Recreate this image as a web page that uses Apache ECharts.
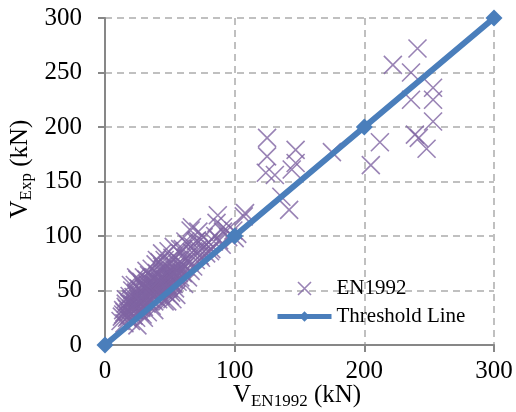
<!DOCTYPE html>
<html>
<head>
<meta charset="utf-8">
<script src="https://cdn.jsdelivr.net/npm/echarts@6/dist/echarts.min.js"></script>
<style>
html, body { margin: 0; padding: 0; background: #fff; }
#chart { width: 516px; height: 412px; }
</style>
</head>
<body>
<div id="chart"></div>
<script>
// values
var axisTicks = [0, 50, 100, 150, 200, 250, 300];
var thresholdX = [0, 100, 200, 300];
var thresholdY = [0, 100, 200, 300];

var en1992X = [241, 222, 236, 253, 253, 236, 253, 239, 242, 248, 212, 205, 175, 125, 125, 124, 131, 147, 147, 144, 136, 142, 107, 91, 99,
    108, 87, 67, 72, 91, 95, 81, 66, 71, 86, 94, 102, 76, 78, 62, 58, 84, 100, 68, 73,
    12, 14, 15, 16, 17, 18, 18, 19, 20, 20, 21, 21, 22, 22, 23, 23, 24, 24, 25, 25, 26, 26, 27, 27, 28, 28, 29, 29, 30, 30, 30,
    31, 31, 32, 32, 33, 33, 34, 34, 35, 35, 36, 36, 37, 37, 38, 38, 39, 39, 40, 40, 41, 41, 42, 42, 43, 43, 44, 44, 45, 45,
    46, 46, 47, 47, 48, 48, 49, 49, 50, 50, 51, 51, 52, 52, 53, 53, 54, 54, 55, 55, 56, 56, 57, 58, 58, 59, 60, 60, 61, 62,
    63, 64, 64, 65, 66, 67, 68, 70, 70, 72, 74, 76, 78, 80, 82, 85, 88, 90, 20, 24, 28, 32, 36, 16, 40, 44, 25, 30, 38, 46, 50, 48, 52,
    13, 15, 17, 19, 21, 23, 25, 27, 29, 31, 33, 35, 37, 39, 41, 43, 45, 47, 49, 51, 53, 55, 57, 59,
    14, 16, 18, 20, 22, 24, 26, 28, 30, 32, 34, 36, 38, 40, 42, 44, 46, 48, 50, 52, 54, 56,
    19, 23, 27, 31, 35, 39, 43, 47, 51, 55, 59, 63, 26, 34, 42, 33, 41, 37, 45, 29];
var en1992Y = [272, 257, 250, 236, 225, 225, 205, 193, 190, 180, 186, 165, 177, 190, 173, 158, 156, 179, 167, 161, 136, 124, 118, 108, 105,
    121, 119, 108, 104, 104, 99, 86, 105, 96, 112, 105, 102, 99, 92, 95, 88, 95, 98, 90, 82,
    22, 28, 20, 35, 25, 40, 30, 45, 22, 33, 50, 38, 27, 44, 55, 32, 48, 25, 40, 60, 35, 52, 30, 45, 58, 38, 48, 28, 62, 42, 35,
    52, 46, 68, 38, 56, 30, 48, 64, 42, 58, 36, 70, 52, 45, 62, 40, 55, 74, 48, 66, 42, 58, 76, 52, 62, 45, 84, 56, 70, 50,
    60, 78, 48, 66, 56, 72, 86, 52, 62, 75, 58, 48, 68, 80, 60, 90, 52, 72, 46, 64, 78, 58, 70, 84, 62, 75, 66, 88, 56, 72,
    80, 62, 92, 76, 68, 85, 72, 78, 95, 88, 80, 90, 84, 94, 88, 100, 96, 92, 55, 62, 50, 60, 62, 42, 78, 72, 18, 25, 32, 40, 45, 40, 42,
    26, 30, 33, 38, 42, 36, 44, 50, 40, 46, 52, 50, 56, 44, 50, 56, 62, 58, 54, 64, 56, 62, 66, 70,
    32, 38, 26, 42, 32, 36, 46, 34, 52, 42, 40, 48, 56, 58, 48, 66, 52, 62, 68, 56, 66, 74,
    28, 36, 40, 44, 50, 52, 58, 60, 64, 68, 72, 76, 42, 50, 60, 55, 64, 46, 54, 55];

var serif = 'Liberation Serif';
var purple = '#8064A2';
var blue = '#4A7EBB';
var crossPath = 'path://M0,0L10,10M10,0L0,10';

var chart = echarts.init(document.getElementById('chart'));

function buildPoints(xs, ys) {
    var pts = [];
    for (var i = 0; i < xs.length; i++) {
        pts.push([xs[i], ys[i]]);
    }
    return pts;
}

var axisCommon = {
    type: 'value',
    min: axisTicks[0],
    max: axisTicks[axisTicks.length - 1],
    axisLine: { show: true, lineStyle: { color: '#878787', width: 2 } },
    axisTick: { show: true, inside: false, length: 7, lineStyle: { color: '#878787', width: 2 } },
    splitLine: { show: true, lineStyle: { color: '#C0C0C0', width: 2, type: [7, 5] } },
    axisLabel: { color: '#000', fontFamily: serif, fontSize: 25 }
};

var titleRich = {
    v: { fontFamily: serif, fontSize: 25, lineHeight: 30, color: '#000' },
    s: { fontFamily: serif, fontSize: 17, lineHeight: 12, verticalAlign: 'bottom', color: '#000' }
};

chart.setOption({
    animation: false,
    backgroundColor: '#fff',
    grid: { left: 105, right: 22, top: 18, bottom: 67 },
    xAxis: echarts.util.merge({
        interval: 100,
        axisLabel: { margin: 14 }
    }, axisCommon),
    yAxis: echarts.util.merge({
        interval: 50,
        axisLabel: { margin: 23 }
    }, axisCommon),
    legend: {
        left: 275,
        top: 278,
        padding: 0,
        orient: 'vertical',
        itemWidth: 54,
        itemHeight: 13,
        itemGap: 7,
        textStyle: { fontFamily: serif, fontSize: 21, color: '#000' },
        data: [
            { name: 'EN1992', icon: crossPath, itemStyle: { color: 'none', borderColor: purple, borderWidth: 1.6 } },
            { name: 'Threshold Line', lineStyle: { width: 5, color: blue } }
        ]
    },
    graphic: [
        {
            type: 'text',
            x: 297,
            y: 395,
            style: {
                text: '{v|V}{s|EN1992}{v| (kN)}',
                rich: titleRich,
                align: 'center',
                verticalAlign: 'middle'
            }
        },
        {
            type: 'text',
            x: 20,
            y: 169,
            rotation: Math.PI / 2,
            style: {
                text: '{v|V}{s|Exp}{v| (kN)}',
                rich: titleRich,
                align: 'center',
                verticalAlign: 'middle'
            }
        }
    ],
    series: [
        {
            name: 'EN1992',
            type: 'scatter',
            z: 2,
            symbol: crossPath,
            symbolKeepAspect: true,
            symbolSize: 18,
            itemStyle: { color: 'none', borderColor: purple, borderWidth: 1.6 },
            emphasis: { disabled: true },
            data: buildPoints(en1992X, en1992Y)
        },
        {
            name: 'Threshold Line',
            type: 'line',
            z: 3,
            symbol: 'diamond',
            symbolSize: 17,
            lineStyle: { color: blue, width: 6 },
            itemStyle: { color: blue },
            emphasis: { disabled: true },
            data: buildPoints(thresholdX, thresholdY)
        }
    ]
});
</script>
</body>
</html>
